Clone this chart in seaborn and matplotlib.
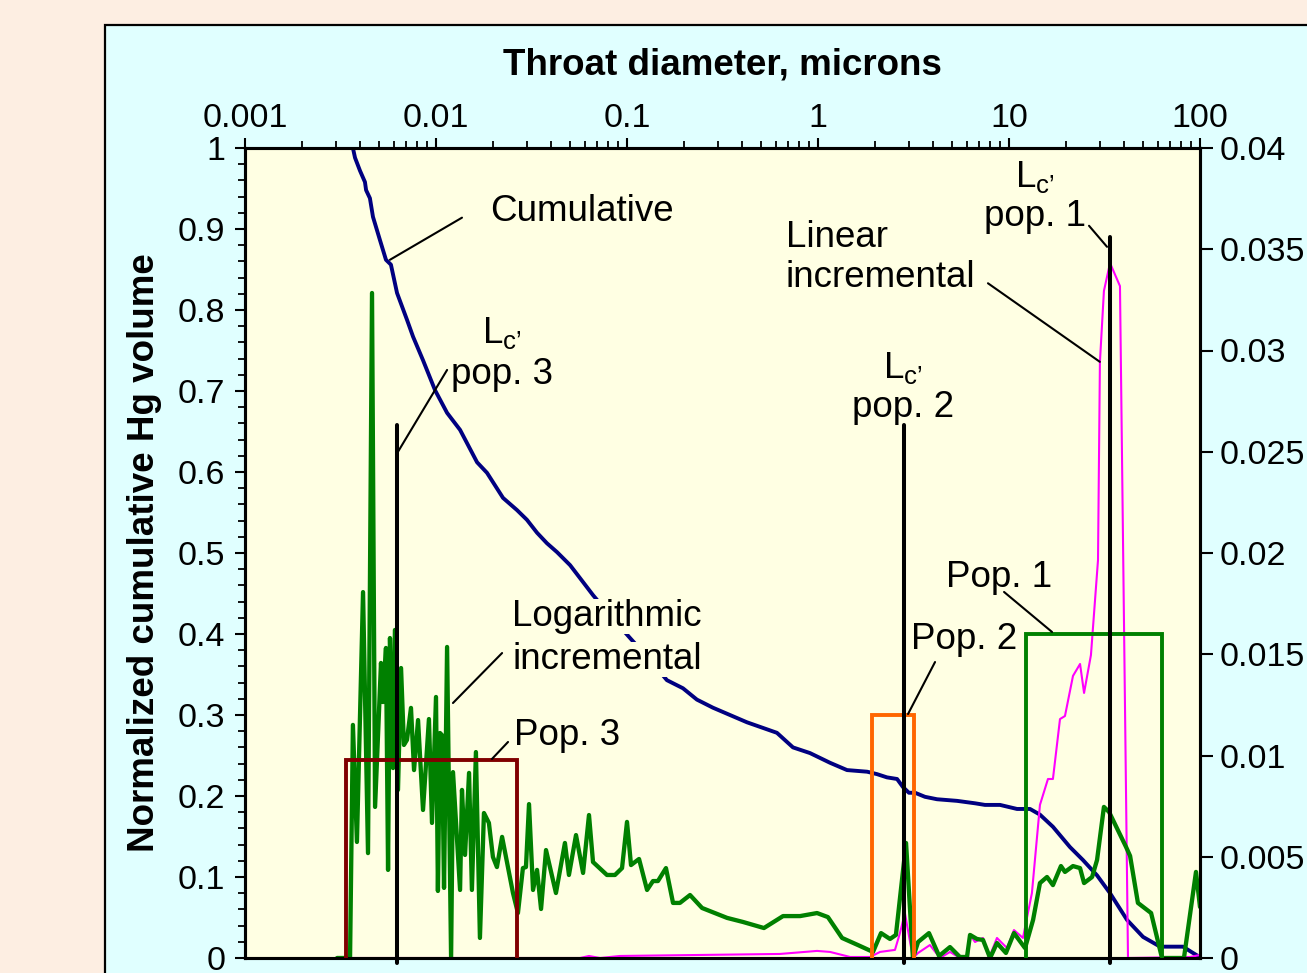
import numpy as np
import pandas as pd
import matplotlib
matplotlib.use("Agg")
import matplotlib.pyplot as plt
import seaborn as sns
from matplotlib.patches import Rectangle
from matplotlib.ticker import FuncFormatter, MultipleLocator, LogLocator, NullFormatter

# ---------------- data ----------------
# throat diameters stored as log10(microns)
cum_log10d = [-2.513, -2.435, -2.424, -2.398, -2.372, -2.366, -2.346, -2.330, -2.293, -2.262,
              -2.236, -2.204, -2.152, -2.120, -2.068, -2.005, -1.942, -1.874, -1.785, -1.733,
              -1.649, -1.576, -1.524, -1.471, -1.419, -1.366, -1.298, -1.246, -1.178, -1.089,
              -0.984, -0.880, -0.791, -0.707, -0.634, -0.550, -0.372, -0.215, -0.131, -0.042,
              0.063, 0.152, 0.257, 0.309, 0.361, 0.414, 0.445, 0.476, 0.508, 0.560,
              0.623, 0.728, 0.822, 0.874, 0.953, 1.042, 1.110, 1.162, 1.230, 1.319,
              1.387, 1.461, 1.529, 1.618, 1.702, 1.791, 1.911, 1.958, 2.000]
cum_volume = [1.000, 1.000, 0.988, 0.972, 0.958, 0.948, 0.938, 0.915, 0.886, 0.862,
              0.856, 0.821, 0.788, 0.767, 0.738, 0.701, 0.673, 0.652, 0.612, 0.599,
              0.568, 0.553, 0.541, 0.525, 0.512, 0.501, 0.485, 0.469, 0.448, 0.423,
              0.395, 0.368, 0.343, 0.333, 0.319, 0.309, 0.291, 0.278, 0.260, 0.253,
              0.241, 0.232, 0.230, 0.227, 0.223, 0.221, 0.211, 0.204, 0.204, 0.199,
              0.196, 0.194, 0.191, 0.189, 0.189, 0.184, 0.184, 0.177, 0.162, 0.137,
              0.121, 0.102, 0.080, 0.047, 0.026, 0.014, 0.014, 0.007, 0.001]

log_inc_log10d = [-2.518, -2.450, -2.435, -2.414, -2.382, -2.356, -2.335, -2.319, -2.288, -2.278,
                  -2.262, -2.251, -2.241, -2.225, -2.215, -2.199, -2.183, -2.168, -2.152, -2.131,
                  -2.115, -2.094, -2.068, -2.037, -2.021, -2.000, -1.990, -1.979, -1.969, -1.958,
                  -1.942, -1.921, -1.911, -1.874, -1.864, -1.848, -1.827, -1.812, -1.791, -1.770,
                  -1.749, -1.723, -1.702, -1.681, -1.654, -1.597, -1.571, -1.545, -1.529, -1.513,
                  -1.492, -1.471, -1.450, -1.424, -1.372, -1.325, -1.304, -1.267, -1.230, -1.199,
                  -1.178, -1.105, -1.063, -1.026, -1.000, -0.979, -0.937, -0.895, -0.864, -0.838,
                  -0.796, -0.759, -0.723, -0.670, -0.607, -0.476, -0.393, -0.283, -0.183, -0.094,
                  -0.005, 0.052, 0.126, 0.209, 0.288, 0.330, 0.377, 0.408, 0.461, 0.497,
                  0.524, 0.581, 0.634, 0.691, 0.743, 0.780, 0.796, 0.832, 0.864, 0.901,
                  0.937, 0.984, 1.026, 1.084, 1.126, 1.162, 1.199, 1.230, 1.272, 1.293,
                  1.335, 1.372, 1.393, 1.435, 1.461, 1.497, 1.524, 1.613, 1.634, 1.675,
                  1.744, 1.801, 1.916, 1.979, 2.000]
log_inc_volume = [0.0, 0.0, 0.01151, 0.00573, 0.01807, 0.00518, 0.03284, 0.00746, 0.01457, 0.01264,
                  0.01531, 0.00435, 0.01580, 0.00938, 0.01620, 0.00830, 0.01432, 0.01052, 0.01077, 0.01235,
                  0.00928, 0.01175, 0.00731, 0.01180, 0.00667, 0.01289, 0.00331, 0.01111, 0.01101, 0.00346,
                  0.01536, 0.0, 0.00918, 0.00336, 0.00830, 0.00509, 0.00914, 0.00336, 0.01017, 0.00099,
                  0.00716, 0.00667, 0.00499, 0.00449, 0.00598, 0.00321, 0.00222, 0.00444, 0.00449, 0.00760,
                  0.00336, 0.00435, 0.00242, 0.00533, 0.00321, 0.00568, 0.00410, 0.00607, 0.00420, 0.00706,
                  0.00474, 0.00410, 0.00410, 0.00444, 0.00672, 0.00459, 0.00489, 0.00336, 0.00380, 0.00380,
                  0.00444, 0.00272, 0.00272, 0.00311, 0.00247, 0.00198, 0.00178, 0.00148, 0.00207, 0.00207,
                  0.00222, 0.00202, 0.00099, 0.00064, 0.00030, 0.00123, 0.00094, 0.00114, 0.00568, 0.0,
                  0.00079, 0.00123, 0.00010, 0.00054, 0.00005, 0.00005, 0.00114, 0.00094, 0.00089, 0.0,
                  0.00074, 0.00025, 0.00123, 0.00049, 0.00188, 0.00370, 0.00400, 0.00360, 0.00454, 0.00425,
                  0.00454, 0.00444, 0.00370, 0.00400, 0.00484, 0.00746, 0.00721, 0.00548, 0.00504, 0.00272,
                  0.00222, 0.0, 0.0, 0.00425, 0.00252]

lin_inc_log10d = [-2.518, -1.246, -1.199, -1.141, -1.037, -0.199, -0.005, 0.063, 0.168, 0.272,
                  0.325, 0.403, 0.429, 0.455, 0.497, 0.524, 0.586, 0.639, 0.691, 0.743,
                  0.785, 0.796, 0.822, 0.864, 0.895, 0.937, 0.990, 1.026, 1.073, 1.120,
                  1.162, 1.204, 1.230, 1.267, 1.293, 1.335, 1.372, 1.393, 1.429, 1.466,
                  1.476, 1.497, 1.529, 1.581, 1.623, 1.948, 2.000]
lin_inc_volume = [0.0, 0.0, 0.00010, 0.0, 0.00010, 0.00020, 0.00035, 0.00030, 0.00005, 0.00005,
                  0.00030, 0.00040, 0.00123, 0.00222, 0.0, 0.00025, 0.00064, 0.0, 0.00030, 0.0,
                  0.0, 0.00114, 0.00079, 0.00099, 0.0, 0.00099, 0.00049, 0.00138, 0.00099, 0.00321,
                  0.00756, 0.00884, 0.00884, 0.01180, 0.01195, 0.01393, 0.01452, 0.01309, 0.01496, 0.01965,
                  0.02943, 0.03294, 0.03432, 0.03318, 0.0, 0.00005, 0.00015]

# pore-throat populations (diameter range in microns, box height on the left axis)
pop_labels = ["Pop. 1", "Pop. 2", "Pop. 3"]
pop_dmin = [12.3, 1.92, 0.00338]
pop_dmax = [63.2, 3.18, 0.0266]
pop_height = [0.40, 0.30, 0.245]
pop_colors = ["#008000", "#FF6600", "#800000"]

# characteristic lengths Lc
lc_labels = ["pop. 1", "pop. 2", "pop. 3"]
lc_diam = [33.8, 2.82, 0.00625]
lc_top = [0.89, 0.658, 0.658]

x_ticks = [0.001, 0.01, 0.1, 1, 10, 100]

# ---------------- style ----------------
PEACH = "#FDEEE2"
CYAN = "#E0FFFF"
PLOTBG = "#FFFFE3"

sns.set_theme(style="ticks")
plt.rcParams["font.family"] = ["Liberation Sans", "DejaVu Sans"]
plt.rcParams["mathtext.fontset"] = "custom"
plt.rcParams["mathtext.rm"] = "Liberation Sans"
plt.rcParams["mathtext.it"] = "Liberation Sans"
plt.rcParams["axes.unicode_minus"] = False
for key in ("text.color", "axes.labelcolor", "xtick.color", "ytick.color",
            "xtick.labelcolor", "ytick.labelcolor", "axes.edgecolor"):
    plt.rcParams[key] = "black"

W, H = 1307, 973
fig = plt.figure(figsize=(W / 100, H / 100), dpi=100, facecolor=PEACH)
panel = Rectangle((105 / W, -0.05), 1.0, (H - 25) / H + 0.05,
                  transform=fig.transFigure, facecolor=CYAN,
                  edgecolor="black", lw=1.6, zorder=-10)
fig.patches.append(panel)

ax = fig.add_axes([245 / W, 15 / H, 955 / W, 810 / H])
ax.set_zorder(1)
ax.set_facecolor(PLOTBG)
ax.set_xscale("log")

TICK_FS = 24.5
TEXT_FS = 26.5

# cumulative curve on the left axis
df_cum = pd.DataFrame({"d": np.power(10.0, cum_log10d), "v": cum_volume})
sns.lineplot(data=df_cum, x="d", y="v", ax=ax, sort=False, estimator=None,
             color="#000080", lw=2.8)

ax2 = ax.twinx()
ax2.set_zorder(2)
ax2.patch.set_visible(False)
df_log = pd.DataFrame({"d": np.power(10.0, log_inc_log10d), "v": log_inc_volume})
df_lin = pd.DataFrame({"d": np.power(10.0, lin_inc_log10d), "v": lin_inc_volume})
sns.lineplot(data=df_lin, x="d", y="v", ax=ax2, sort=False, estimator=None,
             color="#FF00FF", lw=1.5)
sns.lineplot(data=df_log, x="d", y="v", ax=ax2, sort=False, estimator=None,
             color="#008000", lw=3.1)

T = ax.transData  # left-axis coordinates for overlays drawn on top

# population boxes
for lo, hi, h, c in zip(pop_dmin, pop_dmax, pop_height, pop_colors):
    ax2.plot([lo, lo, hi, hi], [0, h, h, 0], color=c, lw=2.8, transform=T,
             solid_joinstyle="miter", zorder=3)

# Lc lines
for d, top in zip(lc_diam, lc_top):
    ax2.plot([d, d], [-0.006, top], color="black", lw=2.9, transform=T,
             clip_on=False, zorder=4)

def leader(x0, y0, x1, y1):
    ax2.plot([x0, x1], [y0, y1], color="black", lw=1.5, transform=T, zorder=5)

def label(x, y, s, ha="left", bbox=False):
    kw = dict(transform=T, fontsize=TEXT_FS, ha=ha, va="center", color="black", zorder=6)
    if bbox:
        kw["bbox"] = dict(facecolor=PLOTBG, edgecolor="none", pad=0)
    ax2.text(x, y, s, **kw)

LC = r"L$_{\mathregular{c’}}$"

label(0.0192, 0.921, "Cumulative")
leader(0.01368, 0.914, 0.005741, 0.862)

label(0.02218, 0.772, LC, ha="center")
label(0.02218, 0.720, lc_labels[2], ha="center")
leader(0.01143, 0.726, 0.006324, 0.625)

label(2.786, 0.728, LC, ha="center")
label(2.786, 0.680, lc_labels[1], ha="center")

label(13.68, 0.964, LC, ha="center")
label(13.68, 0.915, lc_labels[0], ha="center")
leader(26.24, 0.904, 32.6, 0.878)

label(0.679, 0.890, "Linear")
label(0.679, 0.840, "incremental")
leader(7.76, 0.833, 29.9, 0.736)

label(0.025, 0.421, "Logarithmic", bbox=True)
label(0.025, 0.369, "incremental", bbox=True)
leader(0.02218, 0.3765, 0.01227, 0.3148)

label(0.02559, 0.2753, pop_labels[2])
leader(0.02383, 0.2667, 0.01963, 0.2457)

label(3.07, 0.3926, pop_labels[1])
leader(4.10, 0.3654, 2.96, 0.3012)

label(4.68, 0.470, pop_labels[0])
leader(9.42, 0.4519, 16.8, 0.4025)

# ---------------- axes ----------------
fmt = FuncFormatter(lambda v, p: f"{v:g}")
ax.set_xlim(0.001, 100)
ax.set_ylim(0, 1)
ax2.set_ylim(0, 0.04)

ax.xaxis.set_major_locator(LogLocator(base=10, numticks=12))
ax.xaxis.set_minor_locator(LogLocator(base=10, subs=np.arange(2, 10), numticks=12))
ax.xaxis.set_major_formatter(fmt)
ax.xaxis.set_minor_formatter(NullFormatter())
ax.set_xticks(x_ticks)
ax.xaxis.tick_top()
ax.tick_params(axis="x", which="both", top=True, bottom=False, labeltop=True,
               labelbottom=False, direction="out", colors="black")
ax.tick_params(axis="x", which="major", length=7.2, width=1.5, pad=3, labelsize=TICK_FS)
ax.tick_params(axis="x", which="minor", length=5, width=1.3)

ax.yaxis.set_major_locator(MultipleLocator(0.1))
ax.yaxis.set_minor_locator(MultipleLocator(0.02))
ax.yaxis.set_major_formatter(fmt)
ax.tick_params(axis="y", which="both", left=True, right=False, direction="out", colors="black")
ax.tick_params(axis="y", which="major", length=7.2, width=1.5, pad=7, labelsize=TICK_FS)
ax.tick_params(axis="y", which="minor", length=5, width=1.3)

ax2.yaxis.set_major_locator(MultipleLocator(0.005))
ax2.yaxis.set_major_formatter(fmt)
ax2.tick_params(axis="y", which="major", right=True, direction="out", length=9,
                width=1.5, pad=5, labelsize=TICK_FS, colors="black")
ax2.tick_params(axis="y", which="minor", right=False)
ax2.set_ylabel("")

ax.set_xlabel("Throat diameter, microns", fontsize=TEXT_FS, fontweight="bold", color="black")
ax.xaxis.set_label_position("top")
ax.xaxis.set_label_coords(0.5, 1.091)
ax.set_ylabel("Normalized cumulative Hg volume", fontsize=TEXT_FS, fontweight="bold", color="black")
ax.yaxis.set_label_coords(-0.087, 0.5)

for a in (ax, ax2):
    for s in a.spines.values():
        s.set_visible(True)
        s.set_color("black")
        s.set_linewidth(2.2)
    a.grid(False)

fig.savefig("out.png", dpi=100, facecolor=fig.get_facecolor())
